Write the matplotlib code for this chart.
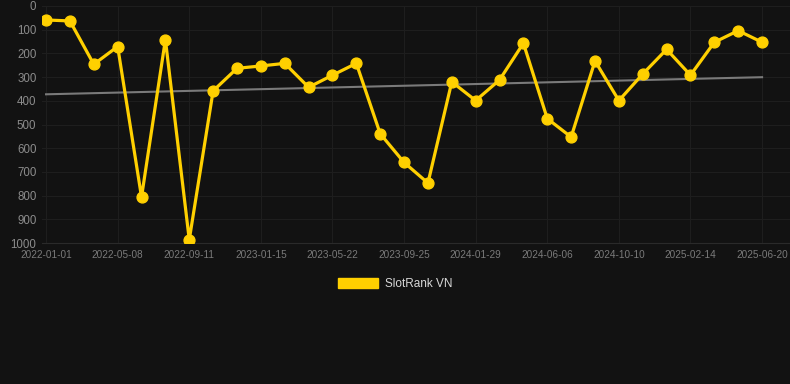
import numpy as np
import matplotlib
matplotlib.use("Agg")
import matplotlib.pyplot as plt
from matplotlib.patches import Patch

# rank values, one every ~42 days
ranks = [59, 63, 246, 171, 806, 142, 986, 358, 263, 253,
         242, 343, 292, 242, 539, 660, 747, 320, 399, 312,
         157, 475, 553, 232, 399, 287, 183, 292, 153, 104, 153]
tick_labels = ["2022-01-01", "2022-05-08", "2022-09-11", "2023-01-15",
               "2023-05-22", "2023-09-25", "2024-01-29", "2024-06-06",
               "2024-10-10", "2025-02-14", "2025-06-20"]
series_name = "SlotRank VN"

bg = "#121212"
gold = "#ffd000"
plt.rcParams['font.family'] = ['Liberation Sans', 'DejaVu Sans']

x = np.arange(len(ranks))
fig = plt.figure(figsize=(7.9, 3.84), dpi=100, facecolor=bg)
ax = fig.add_axes([42/790, 1-243/384, 1-42/790, (243-6)/384])
ax.set_facecolor(bg)

# linear trend over the whole series
k, b = np.polyfit(x, ranks, 1)
ax.plot(x, k*x + b, color="#7a7a7a", lw=1.5, zorder=2)

ax.plot(x, ranks, color=gold, lw=2.3, marker="o", ms=7.8,
        solid_joinstyle="miter", zorder=3)

ax.set_ylim(1000, 0)
ax.set_xlim(-0.17, 31.17)
ax.set_yticks(range(0, 1001, 100))
ax.set_xticks(x[::3])
ax.set_xticklabels(tick_labels)
ax.grid(True, color="#1e1e1e", lw=0.8)
ax.set_axisbelow(True)
for s in ["top", "right", "left"]:
    ax.spines[s].set_visible(False)
ax.spines["bottom"].set_color("#2a2a2a")
ax.tick_params(axis="y", length=0, labelsize=8.3, colors="#8c8c8c", pad=4)
ax.tick_params(axis="x", length=0, labelsize=7.2, colors="#7a7a7a", pad=5)

leg = fig.legend(handles=[Patch(color=gold, label=series_name)],
                 loc="center", bbox_to_anchor=(0.5, 1-284/384),
                 frameon=False, fontsize=8.5, handlelength=3.4,
                 handleheight=1.0, handletextpad=0.55)
for t in leg.get_texts():
    t.set_color("#d8d8d8")

fig.savefig("out.png", facecolor=bg)
